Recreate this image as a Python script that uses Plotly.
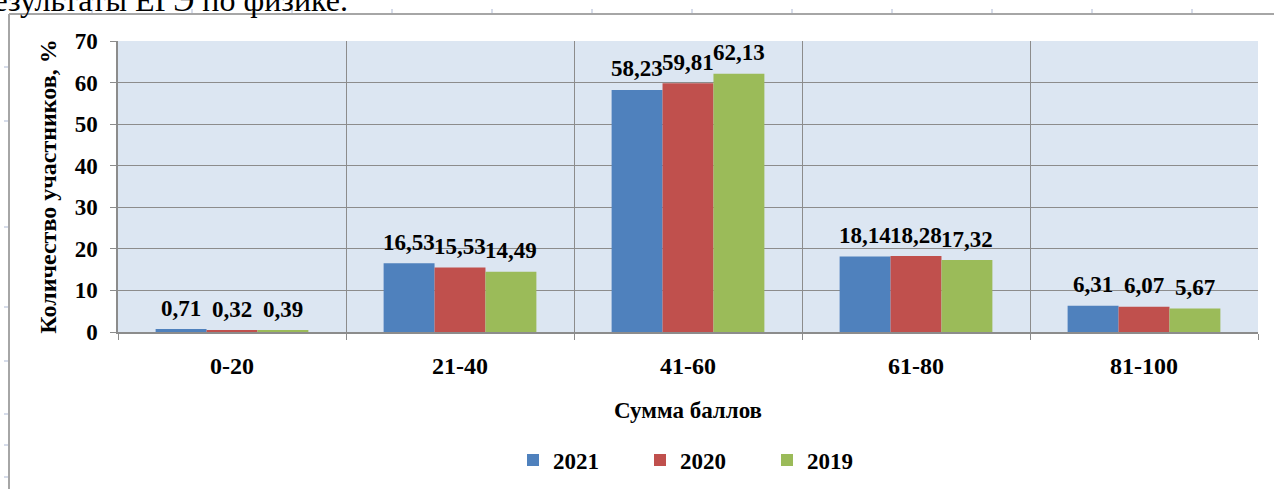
import plotly.graph_objects as go

categories = ["0-20", "21-40", "41-60", "61-80", "81-100"]
years = ["2021", "2020", "2019"]
values_2021 = [0.71, 16.53, 58.23, 18.14, 6.31]
values_2020 = [0.32, 15.53, 59.81, 18.28, 6.07]
values_2019 = [0.39, 14.49, 62.13, 17.32, 5.67]
colors = ["#4f81bd", "#c0504d", "#9bbb59"]
y_ticks = [0, 10, 20, 30, 40, 50, 60, 70]

FONT = "Liberation Serif"
W, H = 1274, 489
L, R, T, B = 118, 16, 41, 157
PW, PH = W - L - R, H - T - B
BARGAP = 0.33


def px(x):
    return (x - L) / PW


def py(y):
    return (H - B - y) / PH


series = [values_2021, values_2020, values_2019]
fig = go.Figure()
for name, vals, col in zip(years, series, colors):
    fig.add_trace(go.Bar(
        x=categories, y=vals, name=name,
        marker=dict(color=col, line=dict(width=0)),
        hoverinfo="x+y+name",
    ))

# data labels placed through the axes' scales (category + group offset)
cat_w = PW / len(categories)
bar_w = cat_w * (1 - BARGAP) / len(series)
annotations = []
for j, vals in enumerate(series):
    off = (j - (len(series) - 1) / 2) * bar_w
    for c, v in zip(categories, vals):
        annotations.append(dict(
            x=c, y=v, xref="x", yref="y", text=f"{v:.2f}".replace(".", ","),
            showarrow=False, xanchor="center", yanchor="middle", xshift=off, yshift=21,
            font=dict(family=FONT, size=23, color="black", weight="bold"),
        ))
annotations.append(dict(text="Результаты ЕГЭ по физике.", xref="paper", yref="paper",
                        x=px(350), y=py(20), xanchor="right", yanchor="bottom", showarrow=False,
                        font=dict(family=FONT, size=32, color="black")))

shapes = []
grey = "#a6a6a6"
tickc = "#c9d1e3"
# document frame lines
shapes.append(dict(type="line", xref="paper", yref="paper", x0=px(9), x1=px(W), y0=py(14), y1=py(14),
                   line=dict(color=grey, width=2)))
shapes.append(dict(type="line", xref="paper", yref="paper", x0=px(9), x1=px(9), y0=py(14), y1=py(H),
                   line=dict(color=grey, width=2)))
for xx in [92, 192, 292, 392, 492, 592, 692, 792, 892, 992, 1092, 1192]:
    shapes.append(dict(type="line", xref="paper", yref="paper", x0=px(xx), x1=px(xx), y0=py(9), y1=py(13),
                       line=dict(color=tickc, width=1.5)))
for yy in [67, 121, 227, 307, 361, 414, 445, 477]:
    shapes.append(dict(type="line", xref="paper", yref="paper", x0=px(4), x1=px(8), y0=py(yy), y1=py(yy),
                       line=dict(color=tickc, width=1.5)))

fig.update_layout(
    width=W, height=H,
    margin=dict(l=L, r=R, t=T, b=B, autoexpand=False),
    paper_bgcolor="white", plot_bgcolor="#dce6f2",
    separators=", ",
    barmode="group", bargap=BARGAP, bargroupgap=0,
    font=dict(family=FONT, color="black"),
    shapes=shapes,
    annotations=annotations,
    showlegend=True,
    legend=dict(orientation="h", x=px(513), xanchor="left", y=py(460), yanchor="middle",
                font=dict(family=FONT, size=23, weight="bold"), entrywidth=82,
                itemsizing="constant", bgcolor="rgba(0,0,0,0)"),
)
fig.update_xaxes(
    tickson="boundaries", showgrid=True, gridcolor="#8c8c8c", gridwidth=1,
    showline=True, linecolor="#8c8c8c", linewidth=1.5,
    ticks="outside", ticklen=6, tickcolor="#8c8c8c",
    ticklabelstandoff=11,
    tickfont=dict(family=FONT, size=24, weight="bold"),
    title=dict(text="Сумма баллов", font=dict(family=FONT, size=23, weight="bold"), standoff=24),
)
fig.update_yaxes(
    range=[0, 70], tickvals=y_ticks, showgrid=True, gridcolor="#8c8c8c", gridwidth=1,
    showline=True, linecolor="#8c8c8c", linewidth=1.5,
    ticks="outside", ticklen=6, tickcolor="#8c8c8c",
    ticklabelstandoff=8, zeroline=False,
    tickfont=dict(family=FONT, size=23, weight="bold"),
    title=dict(text="Количество участников, %", font=dict(family=FONT, size=24, weight="bold"), standoff=11),
)
fig.write_html("out.html", config={"displayModeBar": False},
               post_script="document.body.style.margin='0';")
